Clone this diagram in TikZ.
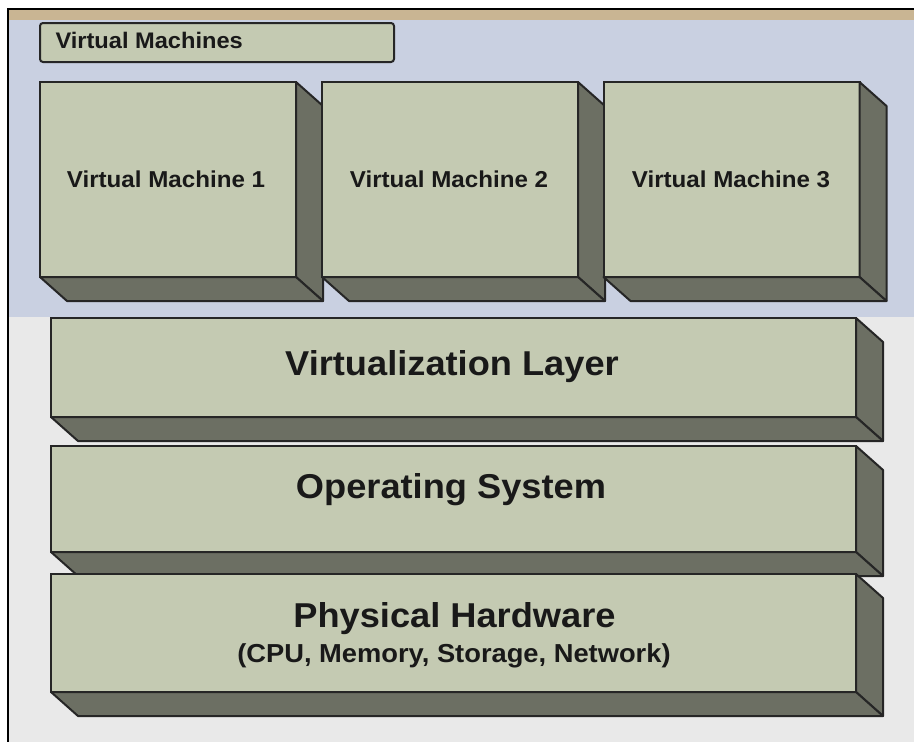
\documentclass[tikz,border=0pt]{standalone}
\usepackage{fontspec}
\setmainfont[FakeStretch=1.05]{Liberation Sans}
\usetikzlibrary{calc,positioning}

\definecolor{facegreen}{HTML}{C4CAB2}
\definecolor{sidegray}{HTML}{6C6F63}
\definecolor{edgegray}{HTML}{262626}
\definecolor{bluebg}{HTML}{C9D0E1}
\definecolor{graybg}{HTML}{E9E9E9}
\definecolor{tanstrip}{HTML}{C9B593}

% side and bottom faces of a box node
\newcommand{\extrude}[1]{%
  \draw[depth] (#1.north east) -- ++(27,24) -- ($(#1.south east)+(27,24)$) -- (#1.south east) -- cycle;
  \draw[depth] (#1.south west) -- ++(27,24) -- ($(#1.south east)+(27,24)$) -- (#1.south east) -- cycle;}

\begin{document}
\begin{tikzpicture}[x=1pt,y=-1pt,
				face/.style={rectangle, draw=edgegray, line width=2pt, fill=facegreen, inner sep=0pt, outer sep=0pt},
				vm/.style={face, minimum width=256pt, minimum height=195pt},
				layer/.style={face, minimum width=805pt},
				depth/.style={fill=sidegray, draw=edgegray, line width=2pt, line join=round},
				label/.style={text=black!90, font=\bfseries\fontsize{23}{27}\selectfont, anchor=base},
				title/.style={text=black!90, font=\bfseries\fontsize{34.5}{40}\selectfont, anchor=base},
				subtitle/.style={text=black!90, font=\bfseries\fontsize{26}{30}\selectfont, anchor=base}
				]
				\useasboundingbox (0,0) rectangle (914,742);
				% background bands
				\fill[white] (0,0) rectangle (914,742);
				\fill[bluebg] (8,9) rectangle (914,317);
				\fill[tanstrip] (8,9) rectangle (914,20);
				\fill[graybg] (8,317) rectangle (914,742);
				\draw[black, line width=1.5pt] (8,742) -- (8,9) -- (914,9);
				
				% virtual machines
				\node[face, rounded corners=3pt, minimum width=354pt, minimum height=39pt, anchor=north west] (vmgroup) at (40,23) {};
				\node[label, anchor=base west, font=\bfseries\fontsize{22.5}{26}\selectfont] (vmgrouptext) at (52,48) {Virtual Machines};
				
				\node[vm] (vm1) at (168,179.5) {};
				\extrude{vm1}
				\node[vm] (vm2) at (450,179.5) {};
				\extrude{vm2}
				\node[vm] (vm3) at (731.5,179.5) {};
				\extrude{vm3}
				\node[label] (vm1text) at (166,187) {Virtual Machine 1};
				\node[label] (vm2text) at (449,187) {Virtual Machine 2};
				\node[label] (vm3text) at (731,187) {Virtual Machine 3};
				
				% layers
				\node[layer, minimum height=99pt] (virt) at (453.5,367.5) {};
				\extrude{virt}
				\node[layer, minimum height=106pt] (os) at (453.5,499) {};
				\extrude{os}
				\node[layer, minimum height=118pt] (hw) at (453.5,633) {};
				\extrude{hw}
				
				\node[title] (virttext) at (452,375) {Virtualization Layer};
				\node[title] (ostext) at (451,498) {Operating System};
				\node[title] (hwtext) at (454.5,627) {Physical Hardware};
				\node[subtitle] (hwsub) at (454,662) {(CPU, Memory, Storage, Network)};
			\end{tikzpicture}
\end{document}
